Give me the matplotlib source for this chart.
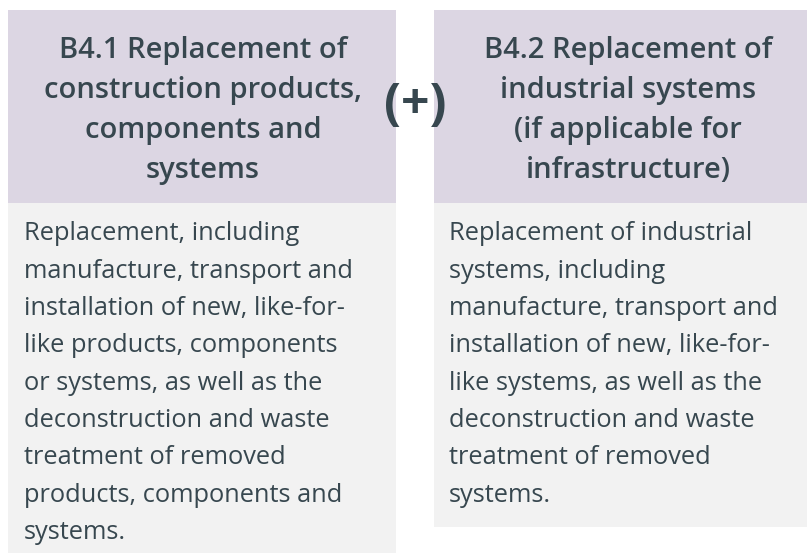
import matplotlib
matplotlib.use("Agg")
import matplotlib.pyplot as plt
from matplotlib.patches import Rectangle

W, H = 807, 554
DPI = 100

header_left = ["B4.1 Replacement of", "construction products,", "components and", "systems"]
header_right = ["B4.2 Replacement of", "industrial systems", "(if applicable for", "infrastructure)"]
body_left = ["Replacement, including", "manufacture, transport and", "installation of new, like-for-",
             "like products, components", "or systems, as well as the", "deconstruction and waste",
             "treatment of removed", "products, components and", "systems."]
body_right = ["Replacement of industrial", "systems, including", "manufacture, transport and",
              "installation of new, like-for-", "like systems, as well as the", "deconstruction and waste",
              "treatment of removed", "systems."]
operator = "(+)"

HEAD_BG = "#dcd6e3"
BODY_BG = "#f2f2f2"
TXT = "#37474f"
FONT = ["Open Sans", "DejaVu Sans"]

fig = plt.figure(figsize=(W / DPI, H / DPI), dpi=DPI)
ax = fig.add_axes([0, 0, 1, 1])
ax.set_xlim(0, W)
ax.set_ylim(H, 0)
ax.axis("off")

# boxes
ax.add_patch(Rectangle((8, 10), 388, 193, facecolor=HEAD_BG, edgecolor="none"))
ax.add_patch(Rectangle((8, 203), 388, 350, facecolor=BODY_BG, edgecolor="none"))
ax.add_patch(Rectangle((434, 10), 390, 193, facecolor=HEAD_BG, edgecolor="none"))
ax.add_patch(Rectangle((434, 203), 390, 324, facecolor=BODY_BG, edgecolor="none"))

head_y0, head_dy = 47, 40
for i, line in enumerate(header_left):
    ax.text(203, head_y0 + i * head_dy, line, ha="center", va="center_baseline",
            fontsize=21, fontweight="semibold", color=TXT, family=FONT)
for i, line in enumerate(header_right):
    ax.text(628, head_y0 + i * head_dy, line, ha="center", va="center_baseline",
            fontsize=21, fontweight="semibold", color=TXT, family=FONT)

body_y0, body_dy = 231, 37.3
for i, line in enumerate(body_left):
    ax.text(24, body_y0 + i * body_dy, line, ha="left", va="center_baseline",
            fontsize=18.3, color=TXT, family=FONT)
for i, line in enumerate(body_right):
    ax.text(449, body_y0 + i * body_dy, line, ha="left", va="center_baseline",
            fontsize=18.3, color=TXT, family=FONT)

ax.text(415, 106, operator, ha="center", va="center", fontsize=36,
        fontweight="bold", color=TXT, family=FONT)

fig.savefig("out.png", dpi=DPI, facecolor="white")
